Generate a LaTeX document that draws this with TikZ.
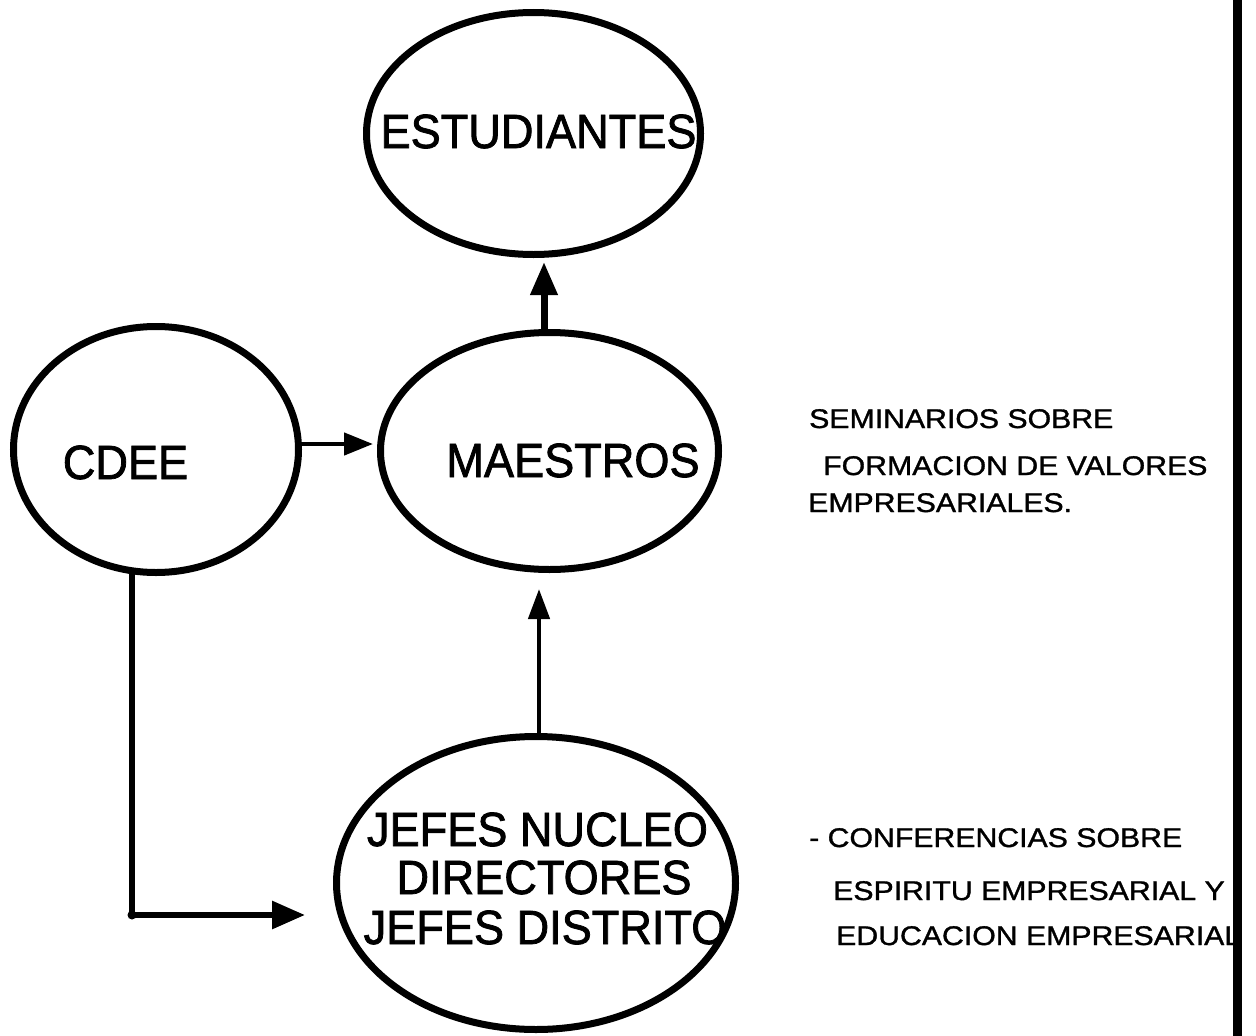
\documentclass[tikz,border=0pt]{standalone}
\usepackage{fontspec}
\setmainfont{Liberation Sans}
\newfontfamily\bigf[FakeStretch=0.94,FakeBold=1.6]{Liberation Sans}
\newfontfamily\smallf[FakeStretch=1.12,FakeBold=1.2]{Liberation Sans}
\usetikzlibrary{shapes.geometric,arrows.meta}
\begin{document}
\begin{tikzpicture}[x=1pt,y=-1pt,
  oval/.style={draw, ellipse, line width=7pt, inner sep=0pt},
  bigtext/.style={anchor=base, inner sep=0pt, font=\bigf\fontsize{48}{52}\selectfont},
  sidetext/.style={anchor=base west, inner sep=0pt, font=\smallf\fontsize{27}{30}\selectfont},
  conn/.style={line width=4.5pt},
  thickconn/.style={line width=7pt},
]
\useasboundingbox (0,0) rectangle (1256,1036);
% ellipses
\node[oval, minimum width=334pt, minimum height=242pt] (est) at (533.5,133.5) {};
\node[oval, minimum width=285pt, minimum height=246pt] (cdee) at (156,449.5) {};
\node[oval, minimum width=338pt, minimum height=237pt] (mae) at (549.5,451) {};
\node[oval, minimum width=399pt, minimum height=293pt] (jefes) at (536,883) {};
% labels
\node[bigtext] (testu) at (538.5,148) {ESTUDIANTES};
\node[bigtext] (tcdee) at (125.5,479) {CDEE};
\node[bigtext] (tmae) at (573,477) {MAESTROS};
\node[bigtext] (tj1) at (537.5,846) {JEFES NUCLEO};
\node[bigtext] (tj2) at (544,894) {DIRECTORES};
\node[bigtext] (tj3) at (545,944) {JEFES DISTRITO};
% side texts
\node[sidetext] (s1) at (809,428) {SEMINARIOS SOBRE};
\node[sidetext] (s2) at (823,475) {FORMACION DE VALORES};
\node[sidetext] (s3) at (808,512) {EMPRESARIALES.};
\node[sidetext] (c1t) at (809,847) {- CONFERENCIAS SOBRE};
\node[sidetext] (c2t) at (833,900) {ESPIRITU EMPRESARIAL Y};
\node[sidetext] (c3t) at (836,945) {EDUCACION EMPRESARIAL};
% helper coordinates
\coordinate (xtop) at (544,0);
\coordinate (xmid) at (539,0);
\coordinate (yh) at (0,444);
\coordinate (corner) at (132,915);
\coordinate (rtop) at (1237.5,0);
\coordinate (rbot) at (1237.5,1036);
% connectors
\draw[thickconn, -{Triangle[length=33pt,width=26pt]}, shorten >=4pt]
  (xtop |- mae.north) -- (xtop |- est.south);
\draw[conn, -{Triangle[length=29pt,width=22pt]}, shorten >=4pt]
  (yh -| cdee.east) -- (yh -| mae.west);
\draw[conn, -{Triangle[length=30pt,width=21pt]}, shorten >=16pt]
  (xmid |- jefes.north) -- (xmid |- mae.south);
\draw[line width=6pt, line join=round, shorten <=-4pt, shorten >=28pt, -{Triangle[length=33pt,width=27pt]}]
  (corner |- cdee.south) -- (corner) -- (corner -| jefes.west);
\fill (corner) circle (4.5pt);
% right border line
\draw[line width=9pt] (rtop) -- (rbot);
\end{tikzpicture}
\end{document}
